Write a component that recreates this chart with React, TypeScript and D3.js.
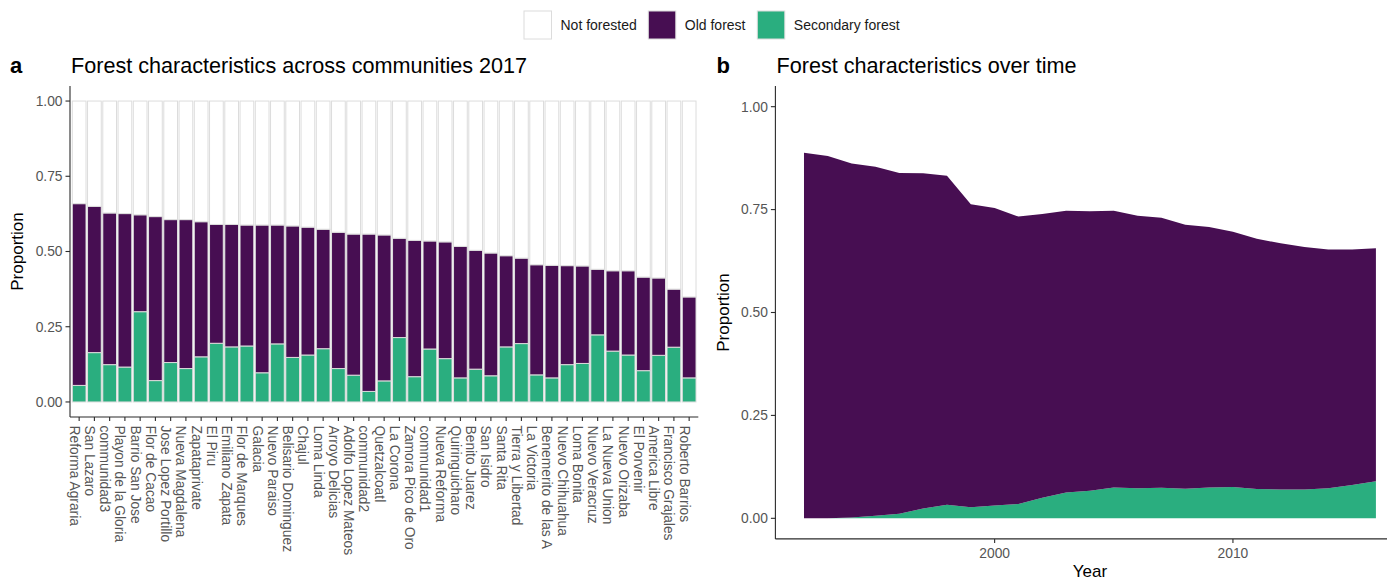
import React from "react";
import * as d3 from "d3";

// Panel a: 2017 land-cover shares per community (ordered by forested share)
const communities = [
  "Reforma Agraria", "San Lazaro", "communidad3", "Playon de la Gloria", "Barrio San Jose",
  "Flor de Cacao", "Jose Lopez Portillo", "Nueva Magdalena", "Zapataprivate", "El Piru",
  "Emiliano Zapata", "Flor de Marques", "Galacia", "Nuevo Paraiso", "Belisario Dominguez",
  "Chajul", "Loma Linda", "Arroyo Delicias", "Adolfo Lopez Mateos", "communidad2",
  "Quetzalcoatl", "La Corona", "Zamora Pico de Oro", "communidad1", "Nueva Reforma",
  "Quiringuicharo", "Benito Juarez", "San Isidro", "Santa Rita", "Tierra y Libertad",
  "La Victoria", "Benemerito de las A", "Nuevo Chihuahua", "Loma Bonita", "Nuevo Veracruz",
  "La Nueva Union", "Nuevo Orizaba", "El Porvenir", "America Libre", "Francisco Grajales",
  "Roberto Barrios",
];
const secondaryShare = [
  0.055, 0.164, 0.124, 0.116, 0.300, 0.071, 0.131, 0.111, 0.150, 0.195,
  0.183, 0.186, 0.097, 0.193, 0.148, 0.156, 0.177, 0.111, 0.089, 0.035,
  0.070, 0.214, 0.084, 0.176, 0.144, 0.080, 0.109, 0.087, 0.183, 0.194,
  0.090, 0.080, 0.124, 0.128, 0.223, 0.169, 0.156, 0.104, 0.155, 0.182,
  0.080,
];
const oldShare = [
  0.604, 0.486, 0.504, 0.510, 0.322, 0.545, 0.475, 0.495, 0.449, 0.395,
  0.407, 0.402, 0.491, 0.395, 0.437, 0.425, 0.397, 0.453, 0.469, 0.523,
  0.485, 0.330, 0.453, 0.359, 0.388, 0.437, 0.395, 0.408, 0.303, 0.284,
  0.366, 0.374, 0.329, 0.324, 0.218, 0.267, 0.280, 0.311, 0.257, 0.193,
  0.269,
];
const unforestedShare = [
  0.341, 0.350, 0.372, 0.374, 0.378, 0.384, 0.394, 0.394, 0.401, 0.410,
  0.410, 0.412, 0.412, 0.412, 0.415, 0.419, 0.426, 0.436, 0.442, 0.442,
  0.445, 0.456, 0.463, 0.465, 0.468, 0.483, 0.496, 0.505, 0.514, 0.522,
  0.544, 0.546, 0.547, 0.548, 0.559, 0.564, 0.564, 0.585, 0.588, 0.625,
  0.651,
];

// Panel b: shares over time across all communities
const years = [
  1992, 1993, 1994, 1995, 1996, 1997, 1998, 1999, 2000, 2001, 2002, 2003, 2004,
  2005, 2006, 2007, 2008, 2009, 2010, 2011, 2012, 2013, 2014, 2015, 2016,
];
const oldOverTime = [
  0.888, 0.880, 0.860, 0.848, 0.828, 0.814, 0.799, 0.736, 0.723, 0.698, 0.689, 0.684, 0.679,
  0.672, 0.662, 0.656, 0.641, 0.633, 0.620, 0.608, 0.598, 0.589, 0.580, 0.572, 0.566,
];
const secondaryOverTime = [
  0.000, 0.000, 0.002, 0.006, 0.011, 0.024, 0.033, 0.027, 0.031, 0.035, 0.050, 0.063, 0.067,
  0.075, 0.073, 0.074, 0.072, 0.075, 0.076, 0.071, 0.070, 0.070, 0.073, 0.081, 0.090,
];

const yTicks = [0, 0.25, 0.5, 0.75, 1];
const yearTicks = [2000, 2010];

const legendItems = [
  { key: "unforested", label: "Not forested" },
  { key: "old", label: "Old forest" },
  { key: "secondary", label: "Secondary forest" },
];

const fills: Record<string, string> = {
  unforested: "#ffffff",
  old: "#470e52",
  secondary: "#2aae7f",
};

const FONT = "Liberation Sans, Arial, Helvetica, sans-serif";
const AXIS_COL = "#2b2b2b";
const TICK_TEXT = "#555555";

export default function App() {
  // ---------- panel a ----------
  const aLeft = 70;
  const aRight = 698.3;
  const aTop = 86;
  const aBottom = 417;

  const xA = d3
    .scaleBand<string>()
    .domain(communities)
    .range([aLeft, aRight])
    .paddingInner(0.1)
    .paddingOuter(0.15);
  const yA = d3.scaleLinear().domain([-0.05, 1.05]).range([aBottom, aTop]);

  const rowsA = communities.map((c, i) => ({
    name: c,
    secondary: secondaryShare[i],
    old: oldShare[i],
    unforested: unforestedShare[i],
  }));
  const stackKeys = ["secondary", "old", "unforested"];
  const seriesA = d3.stack<any>().keys(stackKeys)(rowsA);

  // ---------- panel b ----------
  const bLeft = 775.4;
  const bTop = 86.1;
  const bBottom = 538.9;
  const xB = d3
    .scaleLinear()
    .domain([1990.8, 2017.2])
    .range([bLeft, bLeft + 26.4 * 23.83]);
  const yB = d3.scaleLinear().domain([-0.05, 1.05]).range([bBottom, bTop]);

  const rowsB = years.map((yr, i) => ({
    year: yr,
    secondary: secondaryOverTime[i],
    old: oldOverTime[i],
  }));
  const seriesB = d3.stack<any>().keys(["secondary", "old"])(rowsB);
  const area = d3
    .area<any>()
    .x((d) => xB(d.data.year))
    .y0((d) => yB(d[0]))
    .y1((d) => yB(d[1]));

  const bw = xA.bandwidth();

  // legend layout
  const legendBoxes = [524, 648.3, 757.3];

  return (
    <div style={{ position: "absolute", left: 0, top: 0 }}>
      <svg width={1387} height={581} style={{ display: "block", fontFamily: FONT }}>
        <rect x={0} y={0} width={1387} height={581} fill="#ffffff" />

        {/* legend */}
        {legendItems.map((item, i) => (
          <g key={item.key}>
            <rect
              x={legendBoxes[i]}
              y={11}
              width={27.5}
              height={28}
              fill={fills[item.key]}
              stroke="#dcdcdc"
              strokeWidth={1}
            />
            <text x={legendBoxes[i] + 36.5} y={30} fontSize={14} fill="#1a1a1a">
              {item.label}
            </text>
          </g>
        ))}

        {/* panel a */}
        <text x={10} y={72.5} fontSize={22} fontWeight="bold" fill="#000">
          a
        </text>
        <text x={71} y={72.5} fontSize={21.6} fill="#000">
          Forest characteristics across communities 2017
        </text>

        {seriesA.map((s) => (
          <g key={s.key}>
            {s.map((d: any) => (
              <rect
                key={d.data.name}
                x={xA(d.data.name)}
                y={yA(d[1])}
                width={bw}
                height={yA(d[0]) - yA(d[1])}
                fill={fills[s.key]}
                stroke="#dcdcdc"
                strokeWidth={1}
              />
            ))}
          </g>
        ))}

        {/* panel a axes */}
        <line x1={aLeft} x2={aLeft} y1={aTop} y2={aBottom} stroke={AXIS_COL} strokeWidth={1.1} />
        <line x1={aLeft} x2={aRight} y1={aBottom} y2={aBottom} stroke={AXIS_COL} strokeWidth={1.1} />
        {yTicks.map((t) => (
          <g key={"ya" + t}>
            <line x1={aLeft - 4.5} x2={aLeft} y1={yA(t)} y2={yA(t)} stroke={AXIS_COL} strokeWidth={1.1} />
            <text
              x={aLeft - 7.5}
              y={yA(t)}
              dy="0.35em"
              textAnchor="end"
              fontSize={13.8}
              fill={TICK_TEXT}
            >
              {t.toFixed(2)}
            </text>
          </g>
        ))}
        {communities.map((c) => {
          const cx = (xA(c) as number) + bw / 2;
          return (
            <g key={"xa" + c}>
              <line x1={cx} x2={cx} y1={aBottom} y2={aBottom + 4} stroke={AXIS_COL} strokeWidth={1.1} />
              <text
                transform={`translate(${cx - 9.5},${aBottom + 8.5}) rotate(90)`}
                fontSize={13.8}
                fill={TICK_TEXT}
              >
                {c}
              </text>
            </g>
          );
        })}
        <text
          transform={`translate(23,${(aTop + aBottom) / 2}) rotate(-90)`}
          textAnchor="middle"
          fontSize={17}
          fill="#000"
        >
          Proportion
        </text>

        {/* panel b */}
        <text x={716.5} y={72.5} fontSize={22} fontWeight="bold" fill="#000">
          b
        </text>
        <text x={776.5} y={72.5} fontSize={21.6} fill="#000">
          Forest characteristics over time
        </text>

        {seriesB.map((s) => (
          <path key={s.key} d={area(s as any) || ""} fill={fills[s.key]} />
        ))}

        <line x1={bLeft} x2={bLeft} y1={bTop} y2={bBottom} stroke={AXIS_COL} strokeWidth={1.1} />
        <line x1={bLeft} x2={1387} y1={bBottom} y2={bBottom} stroke={AXIS_COL} strokeWidth={1.1} />
        {yTicks.map((t) => (
          <g key={"yb" + t}>
            <line x1={bLeft - 4.5} x2={bLeft} y1={yB(t)} y2={yB(t)} stroke={AXIS_COL} strokeWidth={1.1} />
            <text
              x={bLeft - 7.5}
              y={yB(t)}
              dy="0.35em"
              textAnchor="end"
              fontSize={13.8}
              fill={TICK_TEXT}
            >
              {t.toFixed(2)}
            </text>
          </g>
        ))}
        {yearTicks.map((t) => (
          <g key={"xb" + t}>
            <line x1={xB(t)} x2={xB(t)} y1={bBottom} y2={bBottom + 4} stroke={AXIS_COL} strokeWidth={1.1} />
            <text x={xB(t)} y={557.5} textAnchor="middle" fontSize={13.8} fill={TICK_TEXT}>
              {t}
            </text>
          </g>
        ))}
        <text x={(bLeft + xB(2017.2)) / 2} y={577} textAnchor="middle" fontSize={17} fill="#000">
          Year
        </text>
        <text
          transform={`translate(729,${(bTop + bBottom) / 2}) rotate(-90)`}
          textAnchor="middle"
          fontSize={17}
          fill="#000"
        >
          Proportion
        </text>
      </svg>
    </div>
  );
}
